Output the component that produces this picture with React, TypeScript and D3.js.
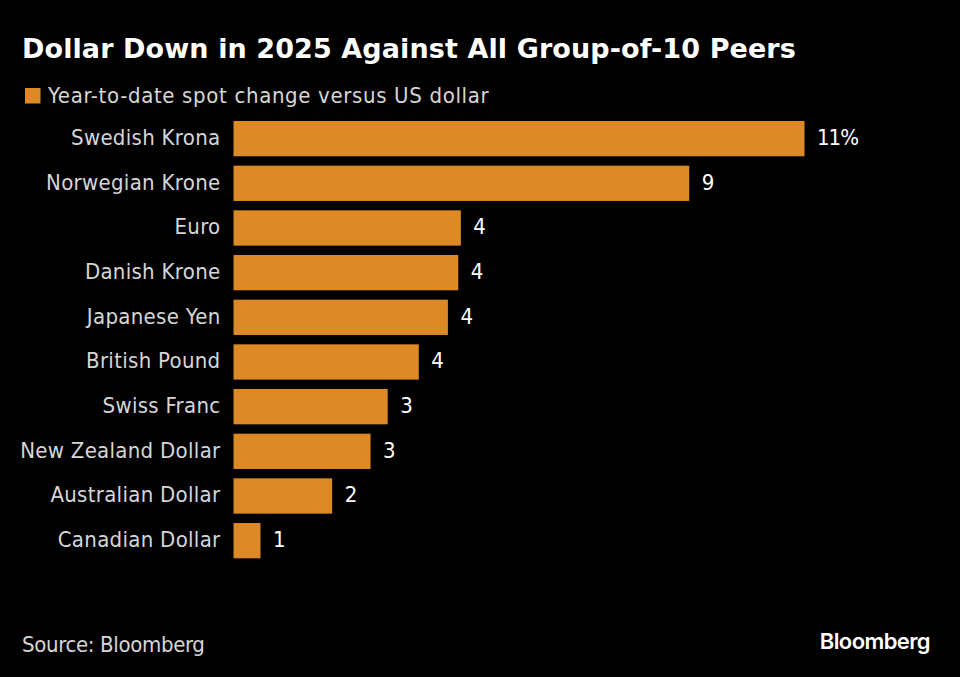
import * as d3 from "d3";

const WIDTH = 960;
const HEIGHT = 677;

const CURRENCIES = [
  "Swedish Krona",
  "Norwegian Krone",
  "Euro",
  "Danish Krone",
  "Japanese Yen",
  "British Pound",
  "Swiss Franc",
  "New Zealand Dollar",
  "Australian Dollar",
  "Canadian Dollar",
];
const CHANGES = [11, 8.78, 4.38, 4.33, 4.13, 3.57, 2.97, 2.64, 1.9, 0.52];
const VALUE_LABELS = ["11%", "9", "4", "4", "4", "4", "3", "3", "2", "1"];

const ORANGE = "#dd8a26";
const LABEL_FONT = "'DejaVu Sans Condensed', 'DejaVu Sans', sans-serif";
const TITLE_FONT = "'DejaVu Sans', sans-serif";

export default function App() {
  const x = d3.scaleLinear().domain([0, 11]).range([233.5, 804.5]);
  const y = d3
    .scaleBand<string>()
    .domain(CURRENCIES)
    .range([116.3, 563])
    .paddingInner(0.21)
    .paddingOuter(0.105);

  return (
    <svg
      width={WIDTH}
      height={HEIGHT}
      viewBox={`0 0 ${WIDTH} ${HEIGHT}`}
      style={{ position: "absolute", left: 0, top: 0, background: "#000" }}
    >
      <rect width={WIDTH} height={HEIGHT} fill="#000" />
      <text x={22} y={57.5} fill="#fff" fontFamily={TITLE_FONT} fontWeight={700} fontSize={27} letterSpacing={0.1}>
        Dollar Down in 2025 Against All Group-of-10 Peers
      </text>

      <rect x={25} y={88} width={15.5} height={15.5} fill={ORANGE} />
      <text x={48} y={103} fill="#d6d6d6" fontFamily={LABEL_FONT} fontSize={22} letterSpacing={0.65}>
        Year-to-date spot change versus US dollar
      </text>

      {CURRENCIES.map((name, i) => {
        const top = y(name)!;
        const mid = top + y.bandwidth() / 2;
        return (
          <g key={name}>
            <rect
              x={x(0)}
              y={top}
              width={x(CHANGES[i]) - x(0)}
              height={y.bandwidth()}
              fill={ORANGE}
            />
            <text
              x={220.5}
              y={mid + 6.3}
              textAnchor="end"
              fill="#d6d6d6"
              fontFamily={LABEL_FONT}
              fontSize={22}
              letterSpacing={0.3}
            >
              {name}
            </text>
            <text
              x={x(CHANGES[i]) + 12.5}
              y={mid + 6.3}
              fill="#fff"
              fontFamily={LABEL_FONT}
              fontSize={22}
              letterSpacing={i === 0 ? -1 : 0}
            >
              {VALUE_LABELS[i]}
            </text>
          </g>
        );
      })}

      <text x={22} y={652} fill="#d6d6d6" fontFamily={LABEL_FONT} fontSize={22} letterSpacing={-0.35}>
        Source: Bloomberg
      </text>
      <text
        x={930}
        y={649}
        textAnchor="end"
        fill="#fff"
        fontFamily="Inter, sans-serif"
        fontWeight={600}
        fontSize={22}
        letterSpacing={-0.6}
      >
        Bloomberg
      </text>
    </svg>
  );
}
